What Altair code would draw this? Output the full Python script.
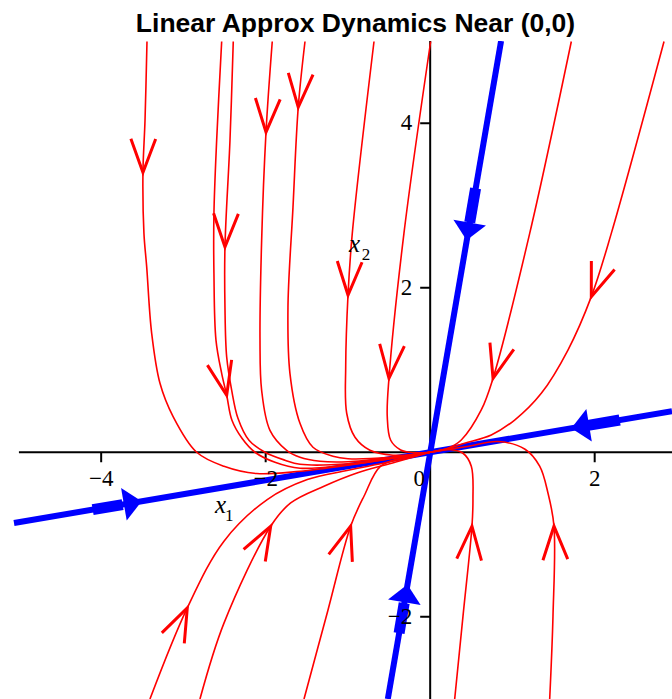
import math
import altair as alt
import pandas as pd

# ---------------- view window (data units) ----------------
X_DOMAIN = [-5.23, 2.94]
Y_DOMAIN = [-3.0, 5.0]
PLOT_W, PLOT_H = 672, 658

# ---------------- eigen-direction lines ----------------
STEEP_X = [-0.515, 0.862]
STEEP_Y = [-3.0, 5.0]
SHALLOW_X = [-5.06, 2.94]
SHALLOW_Y = [-0.86, 0.50]

# blue arrows on the eigen-lines: tail of thick shaft, base of head, tip
BLUE_TAIL_X = [0.552, -0.378, -4.103, 2.304]
BLUE_TAIL_Y = [3.208, -2.199, -0.698, 0.392]
BLUE_BASE_X = [0.481, -0.316, -3.739, 1.919]
BLUE_BASE_Y = [2.795, -1.835, -0.636, 0.326]
BLUE_TIP_X = [0.443, -0.277, -3.508, 1.716]
BLUE_TIP_Y = [2.576, -1.608, -0.596, 0.292]

# ---------------- trajectories (listed in the direction of flow) ----------------
A_X = [-3.443, -3.467, -3.492, -3.480, -3.447, -3.386, -3.285, -3.127, -2.839, -2.507, -2.109, -1.583, -0.999, -0.489, 0.0]
A_Y = [4.994, 4.034, 3.402, 2.661, 2.260, 1.446, 0.838, 0.437, 0.0, -0.170, -0.259, -0.231, -0.158, -0.080, 0.0]

B1_X = [-2.535, -2.596, -2.629, -2.629, -2.604, -2.535, -2.474, -2.410, -2.288, -2.130, -1.887, -1.583, -0.999, -0.489, 0.0]
B1_Y = [4.994, 3.791, 2.904, 2.175, 1.361, 0.960, 0.693, 0.389, 0.170, 0.0, -0.122, -0.194, -0.152, -0.079, 0.0]

B2_X = [-2.394, -2.434, -2.495, -2.495, -2.474, -2.413, -2.337, -2.203, -2.009, -1.765, -1.583, -0.999, -0.489, 0.0]
B2_Y = [4.994, 3.791, 2.495, 1.766, 1.158, 0.753, 0.413, 0.146, 0.0, -0.097, -0.146, -0.140, -0.073, 0.0]

C_X = [-1.920, -1.996, -2.049, -2.069, -2.049, -1.948, -1.745, -1.583, -1.340, -0.999, -0.489, 0.0]
C_Y = [4.994, 3.892, 2.576, 1.361, 0.753, 0.267, 0.024, -0.061, -0.109, -0.115, -0.067, 0.0]

D_X = [-1.522, -1.604, -1.668, -1.729, -1.705, -1.583, -1.425, -1.182, -0.999, -0.489, 0.0]
D_Y = [4.994, 4.196, 2.977, 1.762, 0.960, 0.352, 0.061, -0.049, -0.079, -0.061, 0.0]

G_X = [-0.683, -0.947, -0.999, -1.027, -1.015, -0.914, -0.732, -0.452, -0.221, 0.0]
G_Y = [4.994, 2.661, 1.911, 1.045, 0.474, 0.182, 0.024, -0.036, -0.030, 0.0]

H_X = [0.006, -0.319, -0.501, -0.522, -0.480, -0.359, -0.209, 0.0]
H_Y = [4.994, 2.661, 0.899, 0.437, 0.146, 0.028, -0.006, 0.0]

E_X = [1.716, 1.210, 0.764, 0.621, 0.378, 0.216, 0.0]
E_Y = [4.994, 2.661, 0.899, 0.514, 0.149, 0.049, 0.0]

F_X = [2.843, 2.202, 1.959, 1.675, 1.351, 1.027, 0.743, 0.419, 0.204, 0.0]
F_Y = [4.994, 2.661, 1.892, 1.243, 0.717, 0.392, 0.210, 0.109, 0.043, 0.0]

I_X = [-3.407, -2.953, -2.507, -1.981, -1.494, -0.999, -0.489, 0.0]
I_Y = [-3.001, -1.892, -1.081, -0.575, -0.332, -0.219, -0.115, 0.0]

J_X = [-2.799, -2.507, -1.939, -1.696, -1.291, -0.890, -0.428, 0.0]
J_Y = [-3.001, -2.078, -0.899, -0.616, -0.413, -0.252, -0.122, 0.0]

K_X = [-1.534, -1.243, -0.967, -0.805, -0.602, -0.286, 0.0]
K_Y = [-3.001, -1.920, -0.899, -0.535, -0.170, -0.055, 0.0]

L_X = [0.298, 0.399, 0.508, 0.520, 0.500, 0.399, 0.216, 0.0]
L_Y = [-3.001, -1.993, -0.899, -0.575, -0.170, -0.012, 0.033, 0.0]

M_X = [1.453, 1.493, 1.505, 1.432, 1.331, 1.153, 0.824, 0.450, 0.200, 0.0]
M_Y = [-3.001, -1.993, -0.899, -0.495, -0.170, 0.036, 0.130, 0.070, 0.032, 0.0]

# (name, xs, ys, index of the arrowhead vertex)
TRAJECTORIES = [
    ("A", A_X, A_Y, 2), ("B1", B1_X, B1_Y, 6), ("B2", B2_X, B2_Y, 2),
    ("C", C_X, C_Y, 1), ("D", D_X, D_Y, 1), ("G", G_X, G_Y, 2),
    ("H", H_X, H_Y, 2), ("E", E_X, E_Y, 2), ("F", F_X, F_Y, 2),
    ("I", I_X, I_Y, 1), ("J", J_X, J_Y, 2), ("K", K_X, K_Y, 2),
    ("L", L_X, L_Y, 2), ("M", M_X, M_Y, 2),
]

# ---------------- axes decoration ----------------
X_TICKS = [-4, -2, 2]
X_TICK_LABELS = ["\u22124", "\u22122", "2"]
Y_TICKS = [-2, 2, 4]
Y_TICK_LABELS = ["\u22122", "2", "4"]
NAME_X = [-2.616, -0.987]
NAME_Y = [-0.738, 2.439]
SUB_X = [-2.495, -0.833]
SUB_Y = [-0.838, 2.337]
SUB_TEXT = ["1", "2"]

TITLE = "Linear Approx Dynamics Near (0,0)"

RED = "#ff0000"
BLUE = "#0000ff"
SERIF = "Liberation Serif, Times New Roman, serif"


def heading(x0, y0, x1, y1):
    """Clockwise rotation (deg) turning a downward-pointing glyph toward (x1,y1)."""
    return math.degrees(math.atan2(-(x1 - x0), -(y1 - y0))) % 360


# ---------------- tables ----------------
traj_rows, vee_rows = [], []
for name, xs, ys, k in TRAJECTORIES:
    for i, (x, y) in enumerate(zip(xs, ys)):
        traj_rows.append({"curve": name, "seq": i, "x": x, "y": y})
    vee_rows.append({"x": xs[k], "y": ys[k],
                     "angle": heading(xs[k - 1], ys[k - 1], xs[k + 1], ys[k + 1])})
traj = pd.DataFrame(traj_rows)
vees = pd.DataFrame(vee_rows)

eig = pd.DataFrame(
    [{"line": "steep", "seq": i, "x": x, "y": y} for i, (x, y) in enumerate(zip(STEEP_X, STEEP_Y))]
    + [{"line": "shallow", "seq": i, "x": x, "y": y} for i, (x, y) in enumerate(zip(SHALLOW_X, SHALLOW_Y))]
)

shaft_rows, head_rows = [], []
for j in range(len(BLUE_TIP_X)):
    shaft_rows.append({"arrow": j, "seq": 0, "x": BLUE_TAIL_X[j], "y": BLUE_TAIL_Y[j]})
    shaft_rows.append({"arrow": j, "seq": 1, "x": BLUE_BASE_X[j], "y": BLUE_BASE_Y[j]})
    head_rows.append({"x": BLUE_TIP_X[j], "y": BLUE_TIP_Y[j],
                      "angle": heading(BLUE_BASE_X[j], BLUE_BASE_Y[j], BLUE_TIP_X[j], BLUE_TIP_Y[j])})
shafts = pd.DataFrame(shaft_rows)
heads = pd.DataFrame(head_rows)

xsc = alt.Scale(domain=X_DOMAIN, nice=False, zero=False)
ysc = alt.Scale(domain=Y_DOMAIN, nice=False, zero=False)
X = alt.X("x:Q", scale=xsc, axis=None)
Y = alt.Y("y:Q", scale=ysc, axis=None)

# axis lines through the origin
x_axis = alt.Chart(pd.DataFrame({"x": [-5.0], "x2": [X_DOMAIN[1]], "y": [0.0]})).mark_rule(
    color="black", strokeWidth=2).encode(x=X, x2="x2:Q", y=Y)
y_axis = alt.Chart(pd.DataFrame({"x": [0.0], "y": [Y_DOMAIN[0]], "y2": [Y_DOMAIN[1]]})).mark_rule(
    color="black", strokeWidth=2).encode(x=X, y=Y, y2="y2:Q")

x_ticks = alt.Chart(pd.DataFrame({"x": X_TICKS, "y": [0.0] * len(X_TICKS)})).mark_point(
    shape="M 0 0 L 0 1", filled=False, color="black", strokeWidth=2, size=400, opacity=1
).encode(x=X, y=Y)
y_ticks = alt.Chart(pd.DataFrame({"x": [0.0] * len(Y_TICKS), "y": Y_TICKS})).mark_point(
    shape="M 0 0 L -1 0", filled=False, color="black", strokeWidth=2, size=400, opacity=1
).encode(x=X, y=Y)

x_labels = alt.Chart(pd.DataFrame({"x": X_TICKS, "y": [0.0] * 3, "t": X_TICK_LABELS})).mark_text(
    font=SERIF, fontSize=23, color="black", align="center", baseline="top", dy=16
).encode(x=X, y=Y, text="t:N")
y_labels = alt.Chart(pd.DataFrame({"x": [0.0] * 3, "y": Y_TICKS, "t": Y_TICK_LABELS})).mark_text(
    font=SERIF, fontSize=23, color="black", align="right", baseline="middle", dx=-18
).encode(x=X, y=Y, text="t:N")
origin_label = alt.Chart(pd.DataFrame({"x": [0.0], "y": [0.0], "t": ["0"]})).mark_text(
    font=SERIF, fontSize=23, color="black", align="center", baseline="top", dy=16, dx=-11
).encode(x=X, y=Y, text="t:N")

names = alt.Chart(pd.DataFrame({"x": NAME_X, "y": NAME_Y, "t": ["x", "x"]})).mark_text(
    font=SERIF, fontSize=25, fontStyle="italic", color="black", align="left", baseline="alphabetic"
).encode(x=X, y=Y, text="t:N")
subs = alt.Chart(pd.DataFrame({"x": SUB_X, "y": SUB_Y, "t": SUB_TEXT})).mark_text(
    font=SERIF, fontSize=17, color="black", align="left", baseline="alphabetic"
).encode(x=X, y=Y, text="t:N")

# eigen-lines and their arrows
eig_lines = alt.Chart(eig).mark_line(color=BLUE, strokeWidth=6, clip=True).encode(
    x=X, y=Y, detail="line:N", order="seq:Q")
blue_shafts = alt.Chart(shafts).mark_line(color=BLUE, strokeWidth=11, strokeCap="butt").encode(
    x=X, y=Y, detail="arrow:N", order="seq:Q")
blue_heads = alt.Chart(heads).mark_point(
    shape="M 0 0 L -0.917 -1 L 0.917 -1 Z", filled=True, color=BLUE, size=1296, opacity=1, strokeWidth=0
).encode(x=X, y=Y, angle=alt.Angle("angle:Q", scale=None))

# trajectories and their arrowheads
curves = alt.Chart(traj).mark_line(
    color=RED, strokeWidth=1.6, interpolate="catmull-rom", clip=True
).encode(x=X, y=Y, detail="curve:N", order="seq:Q")
red_vees = alt.Chart(vees).mark_point(
    shape="M -0.37 -1 L 0 0 L 0.37 -1", filled=False, color=RED, strokeWidth=3, size=4490, opacity=1
).encode(x=X, y=Y, angle=alt.Angle("angle:Q", scale=None))

chart = alt.layer(
    x_axis, y_axis, x_ticks, y_ticks,
    eig_lines, blue_shafts, blue_heads,
    curves, red_vees,
    x_labels, y_labels, origin_label, names, subs,
).properties(
    width=PLOT_W, height=PLOT_H,
    title=alt.TitleParams(TITLE, font="Liberation Sans", fontSize=26.5, fontWeight="bold",
                          color="black", anchor="middle", dx=19.5, dy=27.4, baseline="alphabetic",
                          offset=8.6, frame="group"),
    autosize=alt.AutoSizeParams(type="none"),
    padding={"left": 0, "top": 41, "right": 0, "bottom": 0},
    background="white",
).configure_view(stroke=None)

chart.save("out.html", embed_options={"renderer": "svg", "actions": False})
